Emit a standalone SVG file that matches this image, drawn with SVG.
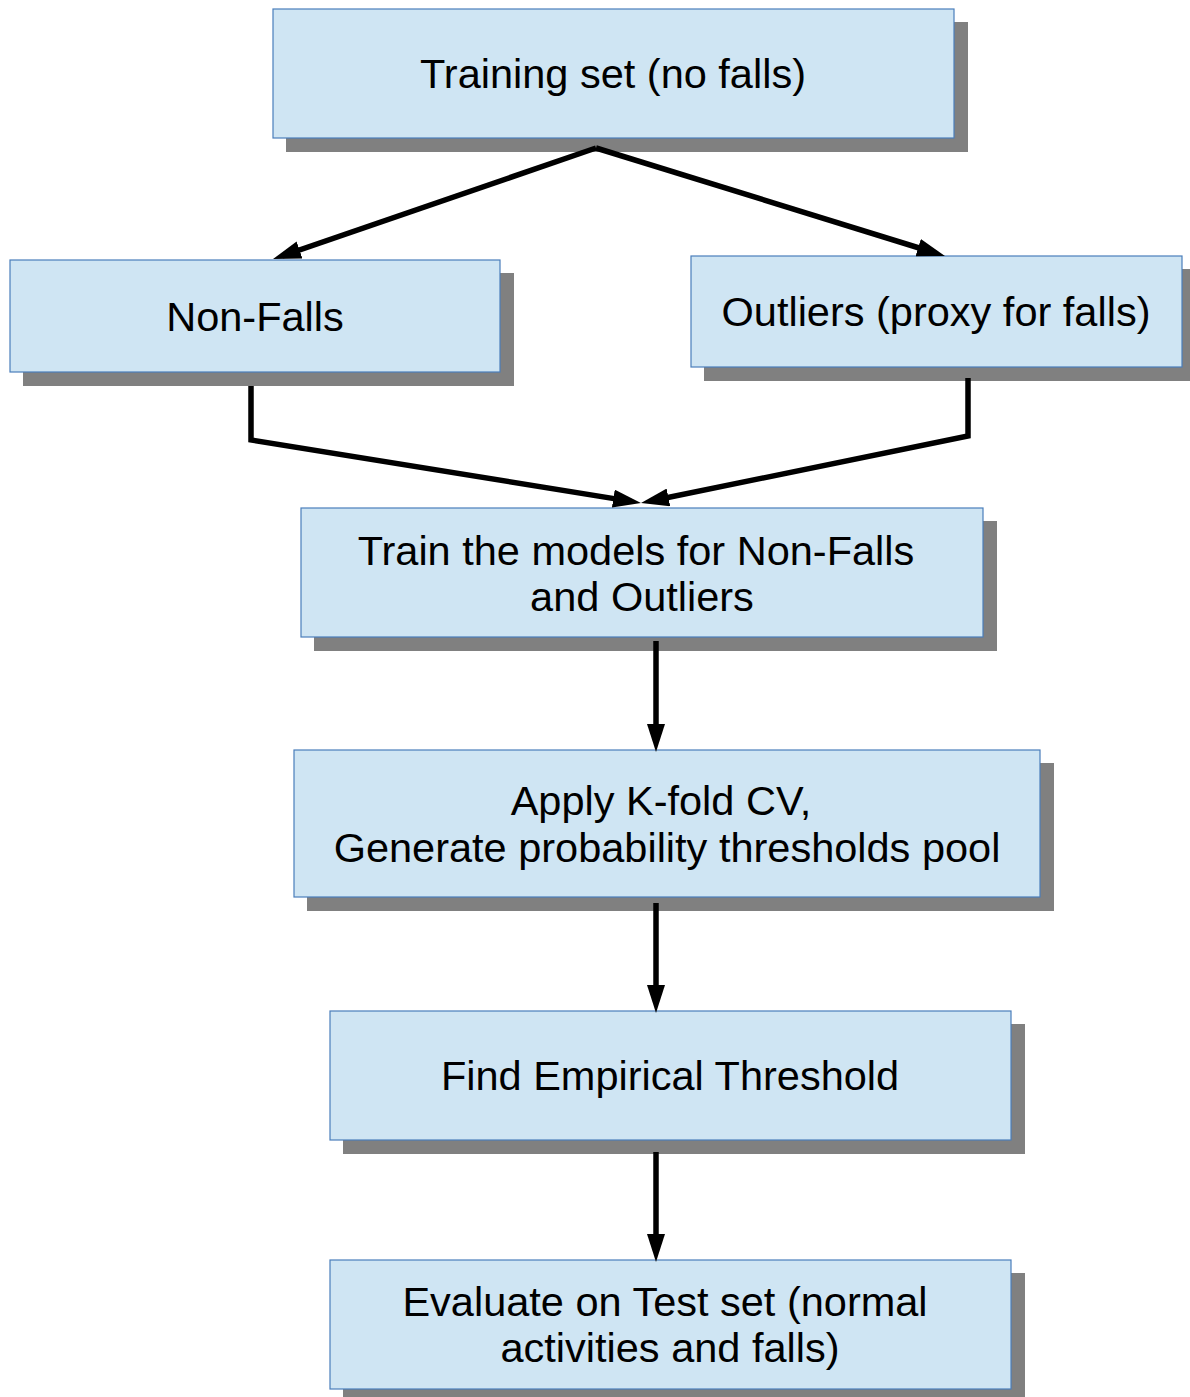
<svg xmlns="http://www.w3.org/2000/svg" width="1190" height="1397" viewBox="0 0 1190 1397">
<style>
.shadow{fill:#808080}
.box{fill:#cfe5f3;stroke:#4a7ebb;stroke-width:1.2}
.lbl{font-family:"Liberation Sans",Arial,sans-serif;font-size:41.5px;fill:#000;text-anchor:middle}
.conn{fill:none;stroke:#000;stroke-width:5.5;stroke-linejoin:miter}
</style>
<defs>
<marker id="arr" viewBox="0 0 28 18" refX="18" refY="9" markerWidth="28" markerHeight="18" markerUnits="userSpaceOnUse" orient="auto">
<path d="M0,0 L28,9 L0,18 Z" fill="#000"/>
</marker>
</defs>
<rect width="1190" height="1397" fill="#fff"/>
<g id="n1">
<rect class="shadow" x="286" y="22" width="682" height="130"/>
<rect class="box" x="273" y="9" width="681" height="129"/>
<text class="lbl" x="613" y="88">Training set (no falls)</text>
</g>
<g id="n2">
<rect class="shadow" x="23" y="273" width="491" height="113"/>
<rect class="box" x="10" y="260" width="490" height="112"/>
<text class="lbl" x="255" y="331">Non-Falls</text>
</g>
<g id="n3">
<rect class="shadow" x="704" y="269" width="486" height="112"/>
<rect class="box" x="691" y="256" width="491" height="111"/>
<text class="lbl" x="936" y="326">Outliers (proxy for falls)</text>
</g>
<g id="n4">
<rect class="shadow" x="314" y="521" width="683" height="130"/>
<rect class="box" x="301" y="508" width="682" height="129"/>
<text class="lbl" x="636" y="565">Train the models for Non-Falls</text>
<text class="lbl" x="642" y="611">and Outliers</text>
</g>
<g id="n5">
<rect class="shadow" x="307" y="763" width="747" height="148"/>
<rect class="box" x="294" y="750" width="746" height="147"/>
<text class="lbl" x="661" y="815">Apply K-fold CV,</text>
<text class="lbl" x="667" y="862">Generate probability thresholds pool</text>
</g>
<g id="n6">
<rect class="shadow" x="343" y="1024" width="682" height="130"/>
<rect class="box" x="330" y="1011" width="681" height="129"/>
<text class="lbl" x="670" y="1090">Find Empirical Threshold</text>
</g>
<g id="n7">
<rect class="shadow" x="343" y="1273" width="682" height="130"/>
<rect class="box" x="330" y="1260" width="681" height="129"/>
<text class="lbl" x="665" y="1316">Evaluate on Test set (normal</text>
<text class="lbl" x="670" y="1362">activities and falls)</text>
</g>
<g id="connectors">
<path class="conn" d="M596,148 L282.5,255.8" marker-end="url(#arr)"/>
<path class="conn" d="M596,148 L935.4,253" marker-end="url(#arr)"/>
<path class="conn" d="M251,386 L251,440 L631.1,501.4" marker-end="url(#arr)"/>
<path class="conn" d="M968,378 L968,436 L650.8,501" marker-end="url(#arr)"/>
<path class="conn" d="M656,641 L656,742" marker-end="url(#arr)"/>
<path class="conn" d="M656,903 L656,1003" marker-end="url(#arr)"/>
<path class="conn" d="M656,1152 L656,1252" marker-end="url(#arr)"/>
</g>
</svg>
